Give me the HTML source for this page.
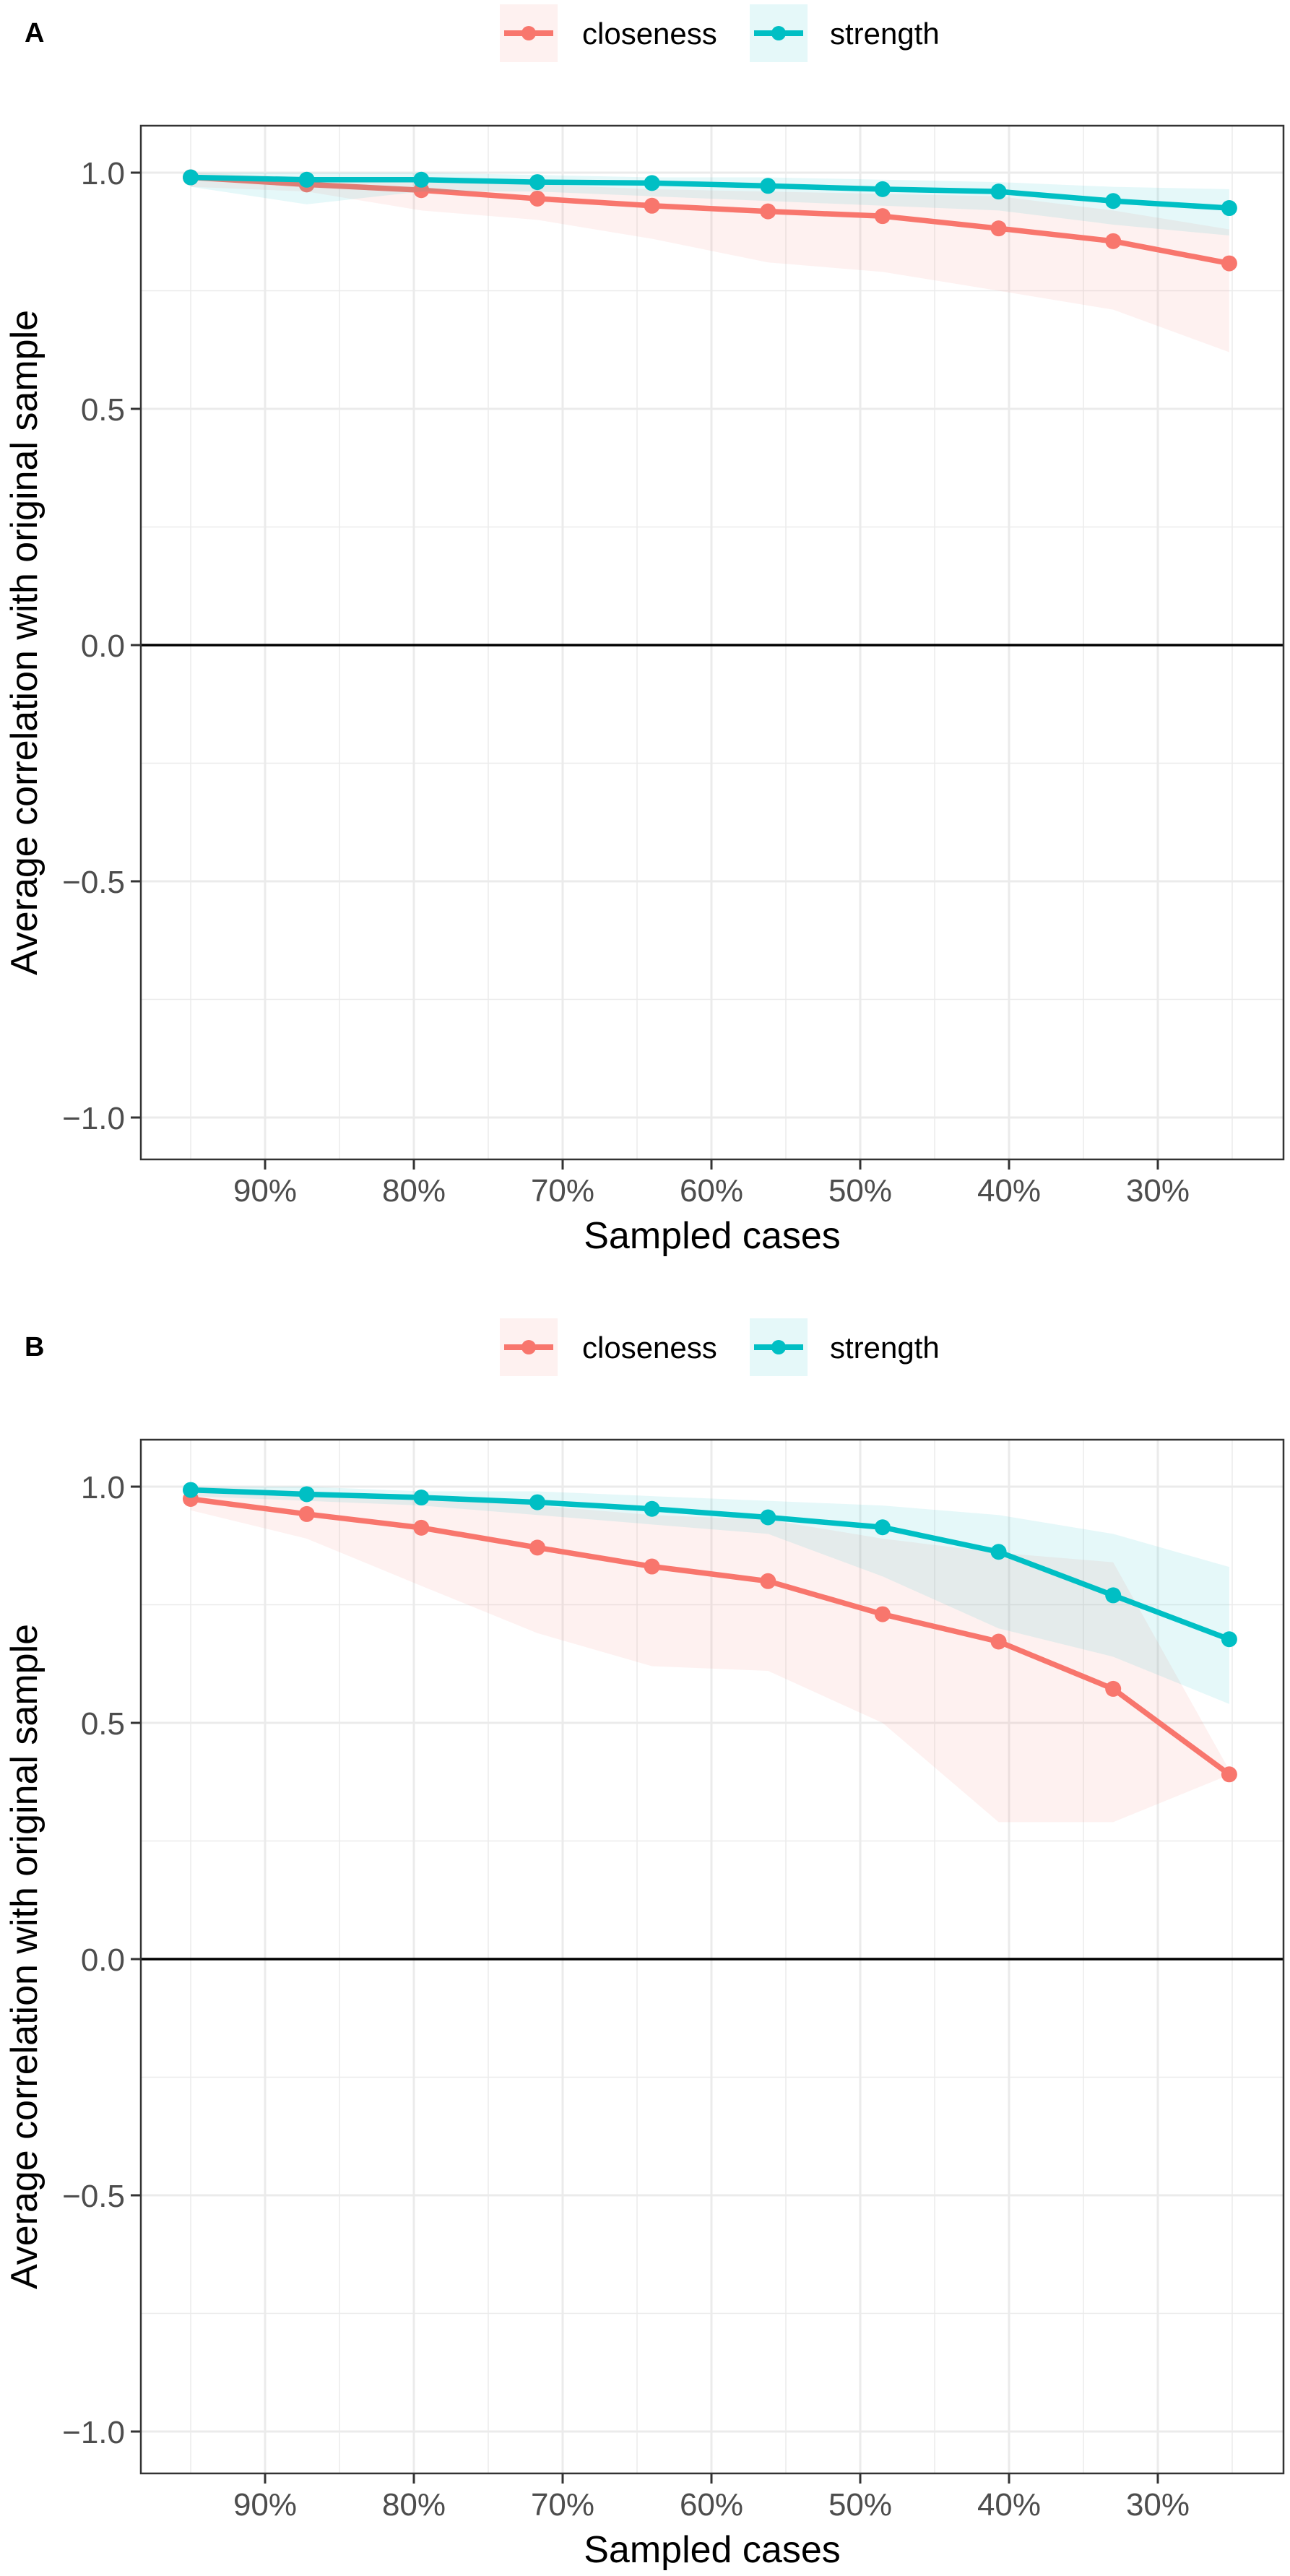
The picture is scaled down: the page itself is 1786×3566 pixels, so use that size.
<!DOCTYPE html>
<html><head><meta charset="utf-8">
<style>
html,body{margin:0;padding:0;background:#fff;}
svg{display:block;font-family:"Liberation Sans",sans-serif;}
</style></head>
<body>
<svg id="fig" width="1786" height="3566" viewBox="0 0 1786 3566" xmlns="http://www.w3.org/2000/svg"></svg>
<script>
// ---- data ----
const sampledPct = [95, 87.2, 79.5, 71.7, 64, 56.2, 48.5, 40.7, 33, 25.2];
const xTicks = [90, 80, 70, 60, 50, 40, 30];
const xTickLabels = ["90%", "80%", "70%", "60%", "50%", "40%", "30%"];
const yTicks = [1, 0.5, 0, -0.5, -1];
const yTickLabels = ["1.0", "0.5", "0.0", "\u22120.5", "\u22121.0"];

const A_closeness = [0.99, 0.975, 0.963, 0.945, 0.93, 0.918, 0.908, 0.882, 0.855, 0.808];
const A_closenessLo = [0.97, 0.96, 0.92, 0.90, 0.86, 0.81, 0.79, 0.75, 0.71, 0.62];
const A_closenessHi = [1.0, 0.99, 0.985, 0.975, 0.965, 0.96, 0.955, 0.95, 0.92, 0.88];
const A_strength = [0.99, 0.985, 0.985, 0.98, 0.978, 0.972, 0.965, 0.96, 0.94, 0.925];
const A_strengthLo = [0.97, 0.933, 0.96, 0.96, 0.95, 0.94, 0.93, 0.92, 0.89, 0.867];
const A_strengthHi = [1.0, 1.0, 1.0, 0.995, 0.99, 0.99, 0.985, 0.98, 0.97, 0.965];

const B_closeness = [0.974, 0.942, 0.913, 0.871, 0.831, 0.80, 0.73, 0.672, 0.572, 0.391];
const B_closenessLo = [0.95, 0.89, 0.79, 0.69, 0.62, 0.61, 0.50, 0.29, 0.29, 0.39];
const B_closenessHi = [1.0, 0.99, 0.98, 0.96, 0.94, 0.93, 0.89, 0.86, 0.84, 0.40];
const B_strength = [0.993, 0.984, 0.977, 0.967, 0.953, 0.935, 0.914, 0.862, 0.77, 0.677];
const B_strengthLo = [0.98, 0.97, 0.96, 0.94, 0.92, 0.90, 0.81, 0.70, 0.64, 0.54];
const B_strengthHi = [1.0, 1.0, 0.99, 0.99, 0.98, 0.97, 0.96, 0.94, 0.90, 0.83];

const RED = "#F8766D", TEAL = "#00BFC4";
const NS = "http://www.w3.org/2000/svg";
const svg = document.getElementById("fig");
function mk(tag, attrs, parent) {
  const e = document.createElementNS(NS, tag);
  for (const k in attrs) e.setAttribute(k, attrs[k]);
  (parent || svg).appendChild(e);
  return e;
}

function panel(off, letter, cl, clLo, clHi, st, stLo, stHi) {
  const g = mk("g", {});
  
  
  const L = 195, R = 1777, T = 174 + off, B = 1605 + off;
  const xs = p => 367 + (90 - p) * 20.6;
  const ys = v => 893 + off - v * 654;

  const lt = mk("text", {x: 34, y: 58 + off, "font-size": 38, "font-weight": "bold", fill: "#000"}, g);
  lt.textContent = letter;
  
  

  // legend
  const leg = mk("g", {}, g);
  
  
  const items = [["closeness", RED, 692, 806], ["strength", TEAL, 1038, 1149]];
  items.forEach(it => {
    const eg = mk("g", {}, leg);
    
    
    mk("rect", {x: it[2], y: 6 + off, width: 80, height: 80, fill: it[1], "fill-opacity": 0.1}, eg);
    mk("line", {x1: it[2] + 6, x2: it[2] + 74, y1: 46 + off, y2: 46 + off, stroke: it[1], "stroke-width": 8}, eg);
    mk("circle", {cx: it[2] + 40, cy: 46 + off, r: 10, fill: it[1]}, eg);
    const t = mk("text", {x: it[3], y: 61 + off, "font-size": 42, fill: "#000"}, eg);
    t.textContent = it[0];
  });

  // panel background & grid
  const grid = mk("g", {}, g);
  
  
  const minorX = [95, 85, 75, 65, 55, 45, 35, 25];
  minorX.forEach(p => mk("line", {x1: xs(p), x2: xs(p), y1: T, y2: B, stroke: "#ebebeb", "stroke-width": 1.5}, grid));
  [0.75, 0.25, -0.25, -0.75].forEach(v => mk("line", {x1: L, x2: R, y1: ys(v), y2: ys(v), stroke: "#ebebeb", "stroke-width": 1.5}, grid));
  xTicks.forEach(p => mk("line", {x1: xs(p), x2: xs(p), y1: T, y2: B, stroke: "#ebebeb", "stroke-width": 3}, grid));
  yTicks.forEach(v => mk("line", {x1: L, x2: R, y1: ys(v), y2: ys(v), stroke: "#ebebeb", "stroke-width": 3}, grid));

  // zero line
  const z = mk("line", {x1: L, x2: R, y1: ys(0), y2: ys(0), stroke: "#000", "stroke-width": 3.5}, g);
  
  

  function series(name, vals, lo, hi, col) {
    const sg = mk("g", {}, g);
    
    
    let d = "";
    sampledPct.forEach((p, i) => { d += (i ? "L" : "M") + xs(p) + "," + ys(hi[i]); });
    for (let i = sampledPct.length - 1; i >= 0; i--) d += "L" + xs(sampledPct[i]) + "," + ys(lo[i]);
    const rib = mk("path", {d: d + "Z", fill: col, "fill-opacity": 0.1}, sg);
    
    
    return {sg, vals, col, name};
  }
  const s1 = series("closeness", cl, clLo, clHi, RED);
  const s2 = series("strength", st, stLo, stHi, TEAL);
  [s1, s2].forEach(s => {
    const pts = sampledPct.map((p, i) => xs(p) + "," + ys(s.vals[i])).join(" ");
    const pl = mk("polyline", {points: pts, fill: "none", stroke: s.col, "stroke-width": 7.5, "stroke-linejoin": "round"}, s.sg);
    
    
    sampledPct.forEach((p, i) => {
      const c = mk("circle", {cx: xs(p), cy: ys(s.vals[i]), r: 11, fill: s.col}, s.sg);
      
      
    });
  });

  // frame
  const fr = mk("rect", {x: L, y: T, width: R - L, height: B - T, fill: "none", stroke: "#333", "stroke-width": 2.5}, g);
  
  

  // axes
  const xa = mk("g", {}, g);
  
  
  xTicks.forEach((p, i) => {
    mk("line", {x1: xs(p), x2: xs(p), y1: B, y2: B + 14, stroke: "#333", "stroke-width": 3}, xa);
    const t = mk("text", {x: xs(p), y: B + 58, "font-size": 44, fill: "#4d4d4d", "text-anchor": "middle"}, xa);
    t.textContent = xTickLabels[i];
  });
  const ya = mk("g", {}, g);
  
  
  yTicks.forEach((v, i) => {
    mk("line", {x1: L - 14, x2: L, y1: ys(v), y2: ys(v), stroke: "#333", "stroke-width": 3}, ya);
    const t = mk("text", {x: L - 22, y: ys(v) + 16, "font-size": 44, fill: "#4d4d4d", "text-anchor": "end"}, ya);
    t.textContent = yTickLabels[i];
  });
  const xt = mk("text", {x: (L + R) / 2, y: B + 123, "font-size": 52, fill: "#000", "text-anchor": "middle"}, g);
  xt.textContent = "Sampled cases";
  
  
  const yc = (T + B) / 2;
  const yt = mk("text", {x: 0, y: 0, "font-size": 52, fill: "#000", "text-anchor": "middle", transform: "translate(51," + yc + ") rotate(-90)"}, g);
  yt.textContent = "Average correlation with original sample";
  
  
}

panel(0, "A", A_closeness, A_closenessLo, A_closenessHi, A_strength, A_strengthLo, A_strengthHi);
panel(1819, "B", B_closeness, B_closenessLo, B_closenessHi, B_strength, B_strengthLo, B_strengthHi);
</script>
</body></html>
